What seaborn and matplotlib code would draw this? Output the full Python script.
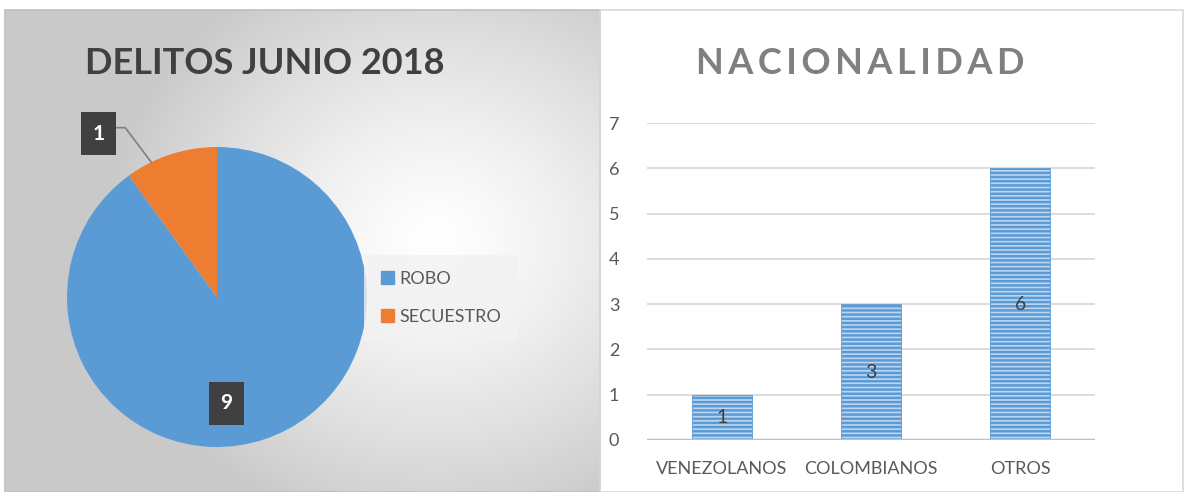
import numpy as np
import matplotlib.pyplot as plt
import matplotlib.patches as mpatches
import seaborn as sns
import pandas as pd

# datos
delitos = ['ROBO', 'SECUESTRO']
delitos_valores = [9, 1]
nacionalidades = ['VENEZOLANOS', 'COLOMBIANOS', 'OTROS']
nacionalidad_valores = [1, 3, 6]

colores = {
    'robo': '#5b9bd5',
    'secuestro': '#ed7d31',
    'titulo': '#404040',
    'titulo2': '#808080',
    'texto': '#595959',
    'grid': '#d9d9d9',
    'caja': '#404040',
}

sns.set_style('white')
plt.rcParams['font.family'] = ['Lato', 'DejaVu Sans']
plt.rcParams['hatch.linewidth'] = 1.8

W, H = 1184, 492
fig = plt.figure(figsize=(W / 100, H / 100), dpi=100)
fig.patch.set_facecolor('white')

def px(x0, y0, x1, y1):
    # caja en pixeles (desde arriba) -> fracciones de figura
    return [x0 / W, 1 - y1 / H, (x1 - x0) / W, (y1 - y0) / H]

# fondo degradado del panel izquierdo
bg = fig.add_axes(px(5, 10, 600, 492))
yy, xx = np.mgrid[0:482, 0:595]
d = np.sqrt(((xx - 430) / 330.0) ** 2 + ((yy - 230) / 300.0) ** 2)
shade = 1.0 - 0.21 * np.clip(d, 0, 1) ** 1.3
bg.imshow(np.dstack([shade] * 3), aspect='auto', extent=[0, 1, 0, 1], origin='upper')
bg.set_axis_off()
fig.add_artist(mpatches.Rectangle((5 / W, 0), 595 / W, 1 - 10 / H, transform=fig.transFigure,
                                  fill=False, edgecolor='#bfbfbf', linewidth=1.2))
fig.add_artist(mpatches.Rectangle((600 / W, 0), 583 / W, 1 - 10 / H, transform=fig.transFigure,
                                  fill=False, edgecolor='#d9d9d9', linewidth=1.2))

# pastel
ax1 = fig.add_axes(px(67, 147, 367, 447))
wedges, _ = ax1.pie(delitos_valores, colors=[colores['robo'], colores['secuestro']],
                    startangle=90, counterclock=False, radius=1,
                    wedgeprops=dict(linewidth=0))
ax1.set_xlim(-1, 1)
ax1.set_ylim(-1, 1)
ax1.set_aspect('equal')
ax1.set_axis_off()

caja = dict(boxstyle='square,pad=0.55', facecolor=colores['caja'], edgecolor='none')
# etiqueta SECUESTRO con linea guia
w = wedges[1]
ang = np.deg2rad((w.theta1 + w.theta2) / 2 + 8)
ax1.annotate(str(delitos_valores[1]), xy=(np.cos(ang), np.sin(ang)),
             xytext=(np.cos(ang) - 0.35, np.sin(ang) + 0.19),
             ha='center', va='center', fontsize=15, fontweight='bold', color='white',
             bbox=caja, annotation_clip=False,
             arrowprops=dict(arrowstyle='-', color='#7f7f7f', lw=1.2,
                             connectionstyle='angle,angleA=0,angleB=127,rad=0',
                             shrinkA=0, shrinkB=0, relpos=(1, 0.8)))
# etiqueta ROBO
w = wedges[0]
ang = np.deg2rad((w.theta1 + w.theta2) / 2 - 13)
ax1.text(0.71 * np.cos(ang), 0.71 * np.sin(ang), str(delitos_valores[0]),
         ha='center', va='center', fontsize=15, fontweight='bold', color='white', bbox=caja)

fig.text(265 / W, 1 - 63 / H, 'DELITOS JUNIO 2018', ha='center', va='center',
         fontsize=26, fontweight='bold', color=colores['titulo'])

handles = [mpatches.Patch(color=colores['robo'], label=delitos[0]),
           mpatches.Patch(color=colores['secuestro'], label=delitos[1])]
fig.legend(handles=handles, loc='center', bbox_to_anchor=(441 / W, 1 - 298 / H),
           frameon=True, facecolor='#f2f2f2', edgecolor='none', framealpha=0.8,
           fontsize=13, labelcolor=colores['texto'], handlelength=0.75, handleheight=0.75,
           handletextpad=0.3, labelspacing=1.2, borderpad=0.9, fancybox=False)

# barras
ax2 = fig.add_axes(px(647, 123, 1095, 440))
df = pd.DataFrame({'nacionalidad': nacionalidades, 'n': nacionalidad_valores})
sns.barplot(data=df, x='nacionalidad', y='n', ax=ax2, width=0.4,
            color='#bcd5f0', saturation=1, linewidth=0.6, zorder=3)
for bar in ax2.patches:
    bar.set_hatch('----')
    bar.set_edgecolor('#5b9bd5')
for bar, v in zip(ax2.patches, nacionalidad_valores):
    ax2.text(bar.get_x() + bar.get_width() / 2, v / 2, str(v), ha='center', va='center',
             fontsize=14, color=colores['titulo'], zorder=4)
ax2.set_ylim(0, 7)
ax2.set_xlim(-0.5, 2.5)
ax2.set_yticks(range(0, 8))
ax2.grid(axis='y', color=colores['grid'], linewidth=1.3, zorder=0)
ax2.axhline(0, color='#bfbfbf', linewidth=2.5, zorder=5)
for s in ax2.spines.values():
    s.set_visible(False)
ax2.set_xlabel('')
ax2.set_ylabel('')
ax2.tick_params(axis='both', length=0, labelsize=13, labelcolor=colores['texto'])
ax2.tick_params(axis='y', pad=20)
ax2.tick_params(axis='x', pad=15)
ax2.set_facecolor('none')

fig.text(860 / W, 1 - 63 / H, 'N A C I O N A L I D A D'.replace(' ', '\u2009'), ha='center',
         va='center', fontsize=26, fontweight='bold', color=colores['titulo2'])

fig.savefig('out.png', dpi=100)
